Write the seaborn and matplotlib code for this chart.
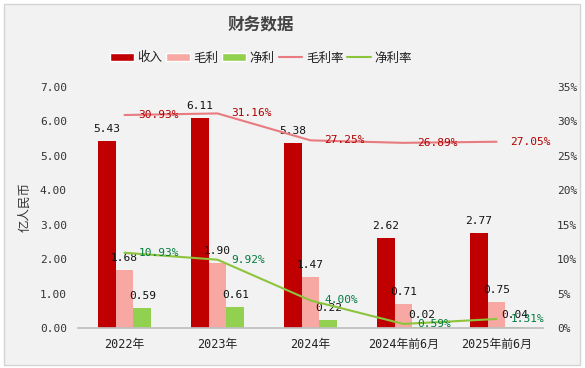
import matplotlib
matplotlib.use("Agg")
import matplotlib.pyplot as plt
import seaborn as sns
import pandas as pd
import numpy as np
from matplotlib.patches import Rectangle, Patch
from matplotlib.lines import Line2D
from matplotlib.ticker import FixedLocator

categories = ["2022年", "2023年", "2024年", "2024年前6月", "2025年前6月"]
revenue = [5.43, 6.11, 5.38, 2.62, 2.77]
gross = [1.68, 1.90, 1.47, 0.71, 0.75]
net = [0.59, 0.61, 0.22, 0.02, 0.04]
gross_margin = [30.93, 31.16, 27.25, 26.89, 27.05]
net_margin = [10.93, 9.92, 4.00, 0.59, 1.31]
series_names = ["收入", "毛利", "净利"]
rate_names = ["毛利率", "净利率"]

sns.set_theme(style="white")
MONO = ["DejaVu Sans Mono", "Noto Sans CJK SC"]
CJK = ["Noto Sans CJK SC", "DejaVu Sans"]
plt.rcParams["font.family"] = MONO

c_rev, c_gross, c_net = "#c00000", "#f7a8a2", "#92d050"
c_gm_line, c_nm_line = "#e97a80", "#8cc43c"
c_gm_txt, c_nm_txt = "#b00000", "#007a3d"

fig = plt.figure(figsize=(5.85, 3.68), dpi=100, facecolor="white")
fig.patches.append(Rectangle((4 / 585, 3 / 368), 576 / 585, 361 / 368, transform=fig.transFigure,
                             facecolor="#f2f2f2", edgecolor="#d4d4d4", linewidth=1, zorder=-10))
ax = fig.add_axes([78 / 585, 40 / 368, 465 / 585, 241 / 368])
ax.set_facecolor("none")

df = pd.DataFrame({
    "cat": categories * 3,
    "series": [series_names[0]] * 5 + [series_names[1]] * 5 + [series_names[2]] * 5,
    "val": revenue + gross + net,
})
sns.barplot(data=df, x="cat", y="val", hue="series", order=categories, hue_order=series_names,
            palette=[c_rev, c_gross, c_net], width=0.58, gap=0, ax=ax, legend=False,
            saturation=1, edgecolor="none", errorbar=None)
for cont in ax.containers:
    ax.bar_label(cont, labels=[f"{v:.2f}" for v in cont.datavalues], padding=5,
                 fontsize=8, color="#111111", fontfamily=MONO)

ax.set_ylim(0, 7)
ax.set_xlim(-0.5, 4.5)
ax.set_yticks(np.arange(0, 7.01, 1))
ax.set_yticklabels([f"{v:.2f}" for v in np.arange(0, 7.01, 1)], fontsize=8, color="#333333", fontfamily=MONO)
ax.set_xlabel("")
ax.set_ylabel("亿人民币", fontsize=9, color="#333333", fontfamily=CJK, labelpad=6)
ax.set_xticks(range(5))
ax.set_xticklabels(categories, fontsize=8.5, color="#222222", fontfamily=MONO)
ax.xaxis.set_minor_locator(FixedLocator(np.arange(-0.5, 4.6, 1)))
ax.tick_params(axis="x", which="major", length=0, pad=7)
ax.tick_params(axis="x", which="minor", length=4, color="#bfbfbf", direction="out")
ax.tick_params(axis="y", length=0, pad=8)
for s in ["top", "right", "left"]:
    ax.spines[s].set_visible(False)
ax.spines["bottom"].set_color("#bfbfbf")

ax2 = ax.twinx()
ax2.set_facecolor("none")
xs = list(range(5))
sns.lineplot(x=xs, y=gross_margin, ax=ax2, color=c_gm_line, linewidth=1.5, sort=False)
sns.lineplot(x=xs, y=net_margin, ax=ax2, color=c_nm_line, linewidth=1.5, sort=False)
ax2.set_ylim(0, 35)
ax2.set_xlim(-0.5, 4.5)
ax2.set_yticks(np.arange(0, 36, 5))
ax2.set_yticklabels([f"{v}%" for v in range(0, 36, 5)], fontsize=8, color="#333333", fontfamily=MONO)
ax2.tick_params(axis="y", length=0, pad=10)
for s in ax2.spines.values():
    s.set_visible(False)

for i in xs:
    ax2.annotate(f"{gross_margin[i]:.2f}%", (i, gross_margin[i]), xytext=(10, 0), textcoords="offset points",
                 ha="left", va="center", fontsize=8, color=c_gm_txt, fontfamily=MONO)
    ax2.annotate(f"{net_margin[i]:.2f}%", (i, net_margin[i]), xytext=(10, 0), textcoords="offset points",
                 ha="left", va="center", fontsize=8, color=c_nm_txt, fontfamily=MONO)

cx = 261 / 585
fig.text(cx, 1 - 24 / 368, "财务数据", ha="center", va="center", fontsize=12, fontweight="bold",
         color="#444444", fontfamily=CJK)

handles = [Patch(facecolor=c_rev), Patch(facecolor=c_gross), Patch(facecolor=c_net),
           Line2D([], [], color=c_gm_line, linewidth=1.5), Line2D([], [], color=c_nm_line, linewidth=1.5)]
fig.legend(handles, series_names + rate_names, loc="center", bbox_to_anchor=(cx, 1 - 58 / 368), ncol=5,
           frameon=False, prop={"family": CJK, "size": 9}, handlelength=1.9, handleheight=0.6,
           handletextpad=0.3, columnspacing=0.3, labelcolor="#222222")

fig.savefig("out.png", dpi=100, facecolor=fig.get_facecolor())
